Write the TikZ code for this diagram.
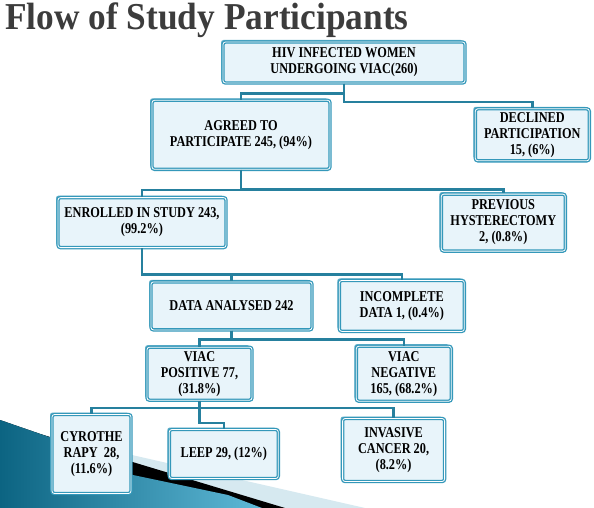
\documentclass[tikz,border=0pt]{standalone}
\usepackage{fontspec}
\usepackage{tikz}
\usetikzlibrary{positioning,shadows}
\newfontfamily\boxfont{Liberation Serif}[FakeStretch=0.82]
\newfontfamily\headfont{Liberation Serif}[FakeStretch=0.93]
\definecolor{Frame}{RGB}{52,152,186}
\definecolor{Link}{RGB}{38,128,158}
\definecolor{Pale}{RGB}{232,244,250}
\definecolor{Head}{RGB}{60,60,60}
\definecolor{SeaDark}{RGB}{12,100,130}
\definecolor{SeaLight}{RGB}{95,185,215}
\definecolor{Mist}{RGB}{214,233,240}
\tikzset{
  pbox/.style={draw=Frame,line width=1.3pt,double=white,double distance=0.8pt,fill=Pale,rounded corners=2.5pt,align=center,inner sep=2pt,
    font=\boxfont\bfseries\fontsize{15}{16}\selectfont,
    drop shadow={shadow xshift=-2pt,shadow yshift=2pt,fill=Frame!75,opacity=1}},
  plink/.style={draw=Link,line width=2.5pt},
  ptitle/.style={font=\headfont\bfseries\fontsize{38}{40}\selectfont,text=Head,inner sep=0pt}
}

\begin{document}
\begin{tikzpicture}[x=1pt,y=-1pt]
\useasboundingbox[fill=white] (0,0) rectangle (594,508);
% corner of the slide
\fill[Mist] (0,425) -- (365,508) -- (0,508) -- cycle;
\fill[black] (0,422) -- (285,508) -- (0,508) -- cycle;
\fill[left color=SeaDark,right color=SeaLight] (0,420) -- (52,438) -- (133,475) -- (228,495) -- (262,508) -- (0,508) -- cycle;
\node[ptitle,anchor=base west] (title) at (5,30) {Flow of Study Participants};
\node[pbox,minimum width=242pt,minimum height=41pt] (hiv) at (344,62.5) {HIV INFECTED WOMEN\\ UNDERGOING VIAC(260)};
\node[pbox,minimum width=178pt,minimum height=69pt,below=16pt of hiv,xshift=-103pt] (agreed) {AGREED TO\\ PARTICIPATE 245, (94\%)};
\node[pbox,minimum width=114pt,minimum height=52pt,right=144pt of agreed] (declined) {DECLINED\\ PARTICIPATION\\ 15, (6\%)};
\node[pbox,minimum width=168pt,minimum height=50pt,below=27pt of agreed,xshift=-99pt] (enrolled) {ENROLLED IN STUDY 243,\\ (99.2\%)};
\node[pbox,minimum width=124pt,minimum height=57pt,right=214pt of enrolled] (prev) {PREVIOUS\\ HYSTERECTOMY\\ 2, (0.8\%)};
\node[pbox,minimum width=161pt,minimum height=48pt,below=33pt of enrolled,xshift=89.5pt] (data) {DATA ANALYSED 242};
\node[pbox,minimum width=125pt,minimum height=51pt,right=26pt of data] (incompl) {INCOMPLETE\\ DATA 1, (0.4\%)};
\node[pbox,minimum width=105pt,minimum height=53pt,below=16pt of data,xshift=-32pt] (viacpos) {VIAC\\ POSITIVE 77,\\ (31.8\%)};
\node[pbox,minimum width=95pt,minimum height=55pt,right=103pt of viacpos] (viacneg) {VIAC\\ NEGATIVE\\ 165, (68.2\%)};
\node[pbox,minimum width=79pt,minimum height=79pt,below=13pt of viacpos,xshift=-108pt] (cryo) {CYROTHE\\ RAPY~~28,\\ (11.6\%)};
\node[pbox,minimum width=109pt,minimum height=49pt,right=37pt of cryo] (leep) {LEEP 29, (12\%)};
\node[pbox,minimum width=102pt,minimum height=63pt,right=63pt of leep,yshift=4pt] (inv) {INVASIVE\\ CANCER 20,\\ (8.2\%)};
% elbow links
\draw[plink] (hiv.south) |- ([yshift=6pt]agreed.north) -- (agreed.north);
\draw[plink] (hiv.south) |- ([yshift=6pt]declined.north) -- (declined.north);
\draw[plink] (agreed.south) |- ([yshift=7pt]enrolled.north) -- (enrolled.north);
\draw[plink] (agreed.south) |- ([yshift=4pt]prev.north) -- (prev.north);
\draw[plink] (enrolled.south) |- ([yshift=7pt]data.north) -- (data.north);
\draw[plink] (enrolled.south) |- ([yshift=5.5pt]incompl.north) -- (incompl.north);
\draw[plink] (data.south) |- ([yshift=7pt]viacpos.north) -- (viacpos.north);
\draw[plink] (data.south) |- ([yshift=6pt]viacneg.north) -- (viacneg.north);
\draw[plink] (viacpos.south) |- ([yshift=6pt]cryo.north) -- (cryo.north);
\draw[plink] (viacpos.south) |- ([yshift=6pt]leep.north) -- (leep.north);
\draw[plink] (viacpos.south) |- ([yshift=10pt]inv.north) -- (inv.north);
\end{tikzpicture}
\end{document}
